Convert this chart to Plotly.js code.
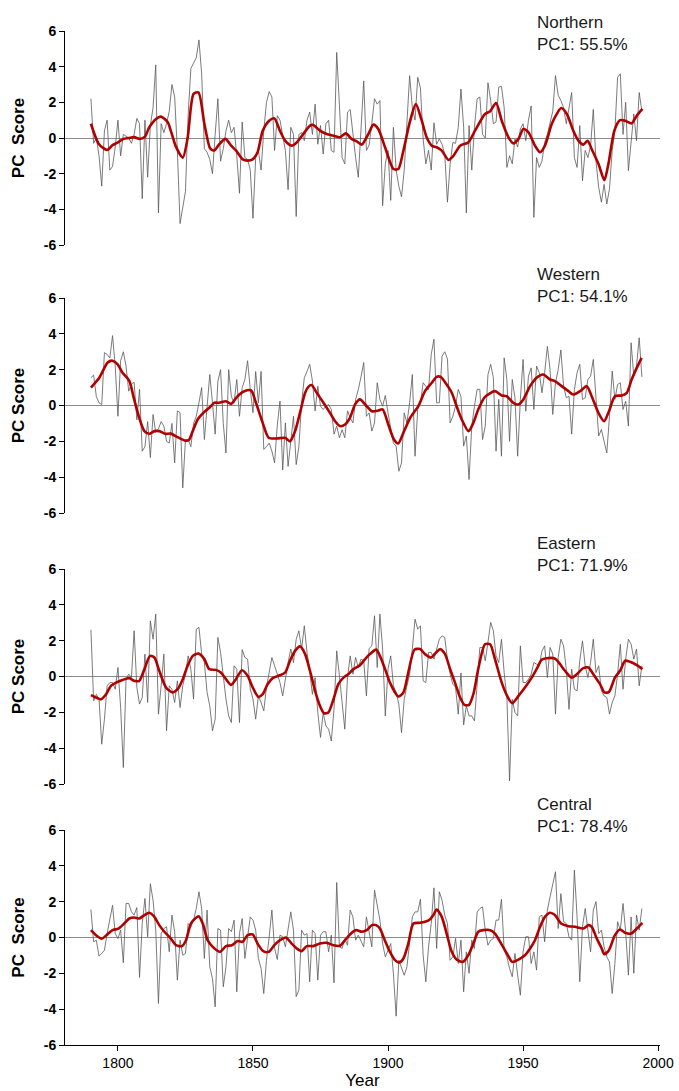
<!DOCTYPE html>
<html>
<head>
<meta charset="utf-8">
<script src="https://cdn.plot.ly/plotly-3.0.1.min.js"></script>
<style>html,body{margin:0;padding:0;background:#fff;}#chart{width:679px;height:1091px;}</style>
</head>
<body>
<div id="chart"></div>
<script>
// ---- DATA ----
var startYear = 1790, endYear = 1994;
var years = [];
for (var yy = startYear; yy <= endYear; yy++) years.push(yy);

var northern = [2.2,-0.3,0.0,-1.0,-2.7,0.4,1.0,-1.8,-1.6,-0.5,
1.0,-1.0,0.2,0.1,0.0,-0.3,0.2,1.1,0.8,-3.4,
1.0,-2.2,0.7,1.7,4.1,-4.2,0.8,0.3,0.8,1.5,
3.0,2.3,-0.7,-4.8,-3.9,-3.0,1.3,3.9,4.2,4.5,
5.5,3.6,-0.6,-0.8,-1.2,-2.0,0.2,2.2,-1.3,-0.6,
0.4,1.0,0.3,0.6,-1.0,-3.1,0.9,-1.1,-1.2,-1.8,
-4.5,-1.1,-0.7,-1.8,0.4,2.0,2.6,2.3,-0.7,1.25,
1.0,0.2,-0.7,-2.9,0.6,0.2,-4.4,0.2,0.3,-0.15,
1.0,1.45,0.2,1.9,-0.35,0.7,-0.9,0.8,1.0,-0.7,
-0.8,4.8,1.7,-1.1,-1.45,1.45,1.6,0.05,-1.1,-2.2,
0.2,3.2,-0.7,-0.4,0.8,2.2,1.9,2.1,-3.8,-1.45,
-0.7,-3.5,0.6,-1.8,-2.7,-3.3,-1.8,0.8,3.5,1.7,
1.0,3.4,2.8,-0.05,-1.45,-0.7,-1.8,0.85,-0.35,-0.05,
-0.35,-0.9,-3.6,-1.45,-0.25,-0.3,0.6,2.75,0.6,-4.2,
0.7,-1.8,0.6,2.2,2.3,0.2,0.0,3.1,2.1,0.8,
0.9,2.85,2.9,1.7,-1.65,-1.0,-1.45,-0.05,-0.5,0.5,
0.8,-0.15,1.0,1.8,-4.45,-1.1,-1.65,-1.3,-0.25,0.2,
0.8,1.5,3.5,2.4,2.1,1.7,0.8,1.8,2.55,-1.1,
-1.65,0.7,-2.4,-0.7,-1.1,-0.45,1.6,-1.3,-2.77,-3.6,
-2.6,-3.7,-2.85,-0.7,0.4,3.4,3.6,0.2,2.0,-1.83,
-0.05,1.35,-0.15,2.55,1.5];

var western = [1.55,1.7,0.5,0.15,0.05,2.95,2.85,2.65,3.9,2.2,
-0.6,2.5,3.0,2.2,0.8,1.2,1.3,-0.8,0.9,-2.55,
-2.3,-0.9,-2.9,-0.5,-1.5,-1.3,-0.9,-1.15,-2.0,-2.1,
-1.0,-3.2,-0.3,-0.4,-4.6,-1.9,-1.9,-2.3,-1.0,-0.6,
0.15,1.0,-1.9,-0.15,1.73,0.15,-1.6,1.35,2.0,-1.0,
-2.65,2.0,0.5,0.15,1.45,-0.6,1.0,1.45,2.5,0.9,
-0.4,1.9,0.15,1.9,-2.45,-2.3,-2.1,-2.55,-3.2,-1.1,
0.25,-3.6,-0.97,-3.4,-2.1,-0.6,-3.3,-2.3,0.15,1.55,
1.9,2.3,1.37,-0.3,1.08,-0.04,-0.22,-0.04,0.05,-0.22,
-1.6,-1.15,-1.8,-1.35,-1.8,-0.3,-0.69,-0.97,0.34,0.89,
1.6,2.4,-0.6,-0.41,-1.43,-0.97,1.27,0.34,-0.04,0.56,
-0.41,-1.25,-2.1,-2.27,-3.67,-3.2,-0.41,-0.97,0.15,1.73,
-2.83,-0.22,0.15,1.27,1.08,0.89,2.85,3.7,0.15,0.15,
2.75,3.0,2.6,-0.97,-0.6,-0.04,0.9,0.5,-2.27,-1.7,
-4.13,-1.15,-0.04,0.9,0.9,-1.9,-1.15,1.73,2.3,1.55,
-2.55,0.34,-2.83,2.66,1.45,-2.0,1.45,0.43,-2.83,0.34,
2.57,-0.32,1.64,2.1,-0.22,2.2,1.83,0.71,1.83,3.3,
2.0,-0.5,1.27,2.0,3.1,1.08,0.43,0.52,-1.6,0.89,
1.83,2.3,0.34,0.43,1.45,1.64,2.57,0.52,-1.7,-1.34,
-2.1,-2.65,-0.6,1.92,0.34,1.17,1.27,-0.22,0.24,-1.15,
3.5,1.64,2.2,3.78,1.6];

var eastern = [2.6,-1.36,-1.0,-1.26,-3.78,-2.38,-0.52,-0.34,-0.34,-0.71,
0.5,-1.73,-5.08,-0.15,0.13,-0.06,2.55,-0.6,-1.54,-1.17,
1.25,-1.45,3.1,2.08,3.48,-2.1,-0.52,1.25,-3.03,-0.52,
-0.71,-1.45,-0.24,-1.73,-0.52,0.13,1.15,0.41,-1.26,2.64,
2.74,1.25,0.78,-0.89,-1.64,-3.03,-2.38,2.18,1.34,-0.15,
-1.26,-2.2,-2.57,0.6,0.41,-2.57,1.5,1.06,0.97,-0.71,
-1.26,-2.38,-1.08,-1.45,-1.92,-0.6,0.22,1.06,0.6,0.1,
-0.34,-1.08,-0.06,0.78,1.53,0.78,2.08,2.55,1.53,2.83,
1.34,0.32,-0.99,-0.06,-2.01,-3.4,-2.01,-2.76,-2.94,-3.6,
-1.83,1.43,0.04,-1.27,-2.94,-0.06,1.15,0.13,1.06,0.5,
0.97,0.88,-1.08,1.56,1.71,3.39,0.5,3.48,1.53,-2.2,
0.41,1.15,-0.52,-0.89,-1.54,-3.13,-1.27,-0.52,0.13,1.53,
3.2,2.64,2.83,-0.24,-0.34,1.34,1.34,0.97,1.53,2.08,
2.27,2.18,0.97,0.13,-0.43,-0.6,-2.1,0.2,-2.7,-1.64,
-2.2,-2.2,-2.48,-0.15,1.62,1.62,0.88,1.9,3.02,2.55,
1.15,0.78,2.08,0.22,-1.17,-5.83,-1.27,-2.01,-2.2,1.71,
-0.34,-0.34,-0.15,0.13,0.78,0.69,0.6,1.43,1.71,-0.06,
1.62,1.25,-2.1,1.06,2.08,1.71,0.41,-1.83,0.41,-0.71,
-0.8,0.88,1.99,0.6,-0.06,0.78,2.08,0.22,0.6,-0.8,
-1.08,-1.17,-2.1,-1.45,-1.08,0.13,1.8,-0.71,0.97,2.08,
1.81,0.97,1.53,-0.52,0.6];

var central = [1.56,-0.24,-0.15,-1.04,-0.89,-0.71,0.22,0.97,1.8,0.22,
-0.06,0.41,-1.41,1.9,1.9,1.43,1.25,1.67,-2.23,0.78,
2.18,0.04,3.0,2.08,0.41,-3.68,0.22,0.5,0.6,-0.8,
1.25,0.32,-2.38,-0.15,-0.99,-0.89,0.78,0.6,0.97,1.62,
2.55,1.62,-1.17,1.53,-1.64,-2.29,-3.87,0.5,0.41,-2.75,
-1.64,0.5,0.32,0.97,-3.03,0.22,1.06,-1.17,-0.15,1.15,
0.97,0.41,-1.17,-1.73,-3.13,-1.27,0.04,1.53,-0.6,-1.23,
0.13,0.04,-0.52,0.41,1.43,0.41,-3.3,-2.94,0.41,0.13,
0.22,-2.47,0.41,0.22,-2.38,0.13,0.32,0.32,-0.8,0.13,
-2.53,3.07,-0.52,-0.61,-0.06,-0.43,1.53,1.15,-0.15,0.13,
-0.24,-0.52,1.15,0.32,-0.52,2.64,1.9,0.97,-0.34,-1.08,
-0.71,-0.34,-2.01,-4.39,-1.27,-1.64,-2.11,-1.64,-0.34,1.15,
1.43,1.43,2.14,-0.99,-2.47,-0.52,0.78,2.77,-0.61,2.55,
2.08,1.25,0.78,-1.27,-1.08,-0.05,-1.45,-0.15,-3.03,-0.8,
-2.0,-0.15,-0.61,1.43,1.62,1.71,0.41,-0.43,-0.15,-0.06,
0.97,0.97,2.14,-0.71,-1.08,-1.73,-2.19,-0.89,-2.1,-3.22,
-0.8,0.04,0.04,-1.45,-0.8,-1.82,1.15,1.25,-0.24,1.53,
2.27,2.9,3.67,0.5,2.45,0.88,0.78,0.04,-0.15,3.76,
1.15,-2.47,0.6,1.62,0.22,-0.8,1.53,2.0,0.22,0.41,
-0.52,-1.08,-1.36,-3.13,-1.45,0.88,0.41,1.9,0.32,-2.1,
1.15,-2.0,1.25,0.41,1.62];

// smoothed curves (year, value)
var northernSmoothX = [1790,1793,1796,1798,1800,1802,1804,1806,1808,1810,1811.6,1814.1,1815.9,1818.4,1819.6,1821.5,1824,1825.8,1828,1829.8,1832,1834.2,1835.7,1837.5,1839.8,1841.9,1843.7,1846.2,1848,1849.9,1851.7,1853.6,1856,1857.9,1860,1861.9,1864.3,1866.2,1868.6,1871.1,1872.3,1874.8,1877.3,1879.8,1882.2,1884.4,1886.5,1888.4,1890.3,1892.7,1894.6,1896.4,1898.9,1902,1903.8,1905.7,1908.2,1910.3,1912.5,1914.3,1916.2,1918,1919.9,1922.4,1924.2,1926.7,1929.7,1932.2,1935.9,1937.8,1940,1942.1,1944.6,1946.4,1948.3,1950.1,1952,1954.4,1956.3,1958.1,1960.6,1962.5,1964.1,1966.2,1968.6,1970.5,1972.3,1973.9,1975.4,1977.9,1980.1,1981.6,1983.8,1985.9,1987.8,1990.2,1992.1,1994.2];
var northernSmoothY = [0.8,-0.35,-0.67,-0.4,-0.25,-0.05,0.0,0.05,-0.05,0.08,0.6,1.07,1.2,0.9,0.4,-0.5,-1.1,0.0,2.47,2.56,0.8,-0.6,-0.7,-0.35,-0.05,-0.43,-0.7,-1.2,-1.27,-1.2,-0.8,0.4,0.97,1.1,0.4,-0.15,-0.43,-0.25,0.22,0.7,0.73,0.41,0.22,0.13,0.04,0.26,-0.05,-0.19,-0.37,0.22,0.75,0.5,-0.52,-1.74,-1.74,-0.7,0.97,1.9,0.97,0.04,-0.43,-0.52,-0.71,-1.23,-1.0,-0.43,-0.25,0.41,1.35,1.5,1.96,0.97,0.04,-0.3,-0.05,0.5,0.32,-0.43,-0.8,-0.43,0.78,1.35,1.68,1.35,0.41,-0.15,-0.37,-0.15,-0.62,-1.45,-2.36,-1.45,0.41,1.0,0.97,0.82,1.25,1.63];

var westernSmoothX = [1790,1793.1,1796.2,1798,1799.9,1801.7,1804.2,1806,1807.9,1809.8,1811.6,1813.5,1815.3,1817.5,1819.6,1822.1,1824.6,1826.2,1827.7,1829.5,1831.6,1833.8,1835.7,1837.5,1840,1841.9,1844.3,1846.8,1849.3,1851.1,1853.6,1855.8,1858.8,1861.9,1863.7,1865.6,1867.4,1869.3,1870.5,1871.7,1873.6,1876.1,1878.5,1880.4,1882.2,1884.1,1885.9,1887.8,1889.6,1892.1,1894,1896.4,1898,1900.1,1902.2,1903.8,1905.7,1908.2,1911.2,1913.7,1916.2,1918,1919.5,1921.7,1923.6,1925.4,1927.3,1929.8,1931.6,1933.4,1935.9,1939.6,1942.1,1943.9,1946.4,1948.3,1950.1,1952.6,1955,1957.5,1960,1961.8,1964.3,1966.8,1968.6,1971.1,1973.6,1975.4,1977.9,1980,1981.8,1984,1986.5,1988.4,1990.2,1992.1,1993.9];
var westernSmoothY = [1.0,1.55,2.4,2.5,2.3,1.83,1.37,0.34,-0.69,-1.43,-1.58,-1.43,-1.43,-1.58,-1.57,-1.77,-1.95,-1.94,-1.43,-0.78,-0.41,-0.13,0.15,0.15,0.24,0.09,0.52,0.8,0.84,0.15,-0.97,-1.8,-1.84,-1.8,-2.0,-1.43,-0.41,0.71,1.04,1.14,0.71,0.15,-0.41,-0.88,-1.15,-1.06,-0.69,0.06,0.34,-0.04,-0.32,-0.28,-0.22,-1.06,-1.9,-2.12,-1.52,-0.69,-0.04,0.8,1.27,1.6,1.6,1.17,0.71,-0.04,-0.78,-1.43,-0.97,-0.22,0.48,0.8,0.56,0.52,0.15,0.06,0.34,1.08,1.55,1.73,1.45,1.36,1.08,0.8,0.61,0.8,1.08,0.52,-0.41,-0.88,-0.32,0.52,0.56,0.71,1.45,2.1,2.66];

var easternSmoothX = [1790,1791.9,1793.7,1795.6,1797.4,1799.3,1801.7,1804.2,1806,1807.9,1809.8,1811.9,1813.5,1815.3,1817.8,1820.2,1822.1,1824,1825.8,1827.7,1829.8,1832,1833.8,1836.3,1838.1,1840,1841.9,1843.7,1845.9,1848,1849.9,1852,1853.6,1855.4,1857.3,1859.5,1861.9,1863.7,1865.6,1867.4,1869.3,1871.1,1873,1874.8,1876.3,1877.9,1879.8,1881.6,1883.5,1885.3,1887.2,1889.6,1891.5,1893.3,1895.6,1897,1898.9,1900.7,1902.6,1903.8,1905.7,1907.5,1909.8,1911.9,1913.7,1915.9,1917.8,1919.3,1921.1,1923,1924.8,1926.7,1928.3,1930,1931.6,1933.4,1935.9,1937.8,1939.6,1942.1,1944.3,1946,1948.3,1950.7,1953.2,1955,1956.9,1958.7,1961.8,1963.7,1965.5,1968,1969.9,1972.3,1974.2,1976,1978.5,1980.1,1981.8,1984,1985.9,1987.8,1989.6,1992.1,1994.2];
var easternSmoothY = [-1.04,-1.17,-1.27,-0.99,-0.52,-0.34,-0.19,-0.09,-0.24,-0.24,0.41,1.15,1.06,0.32,-0.61,-0.89,-0.71,-0.15,0.6,1.15,1.28,0.97,0.41,0.37,0.22,-0.15,-0.47,-0.15,0.35,0.04,-0.61,-1.14,-0.99,-0.43,-0.09,0.04,0.22,0.88,1.43,1.68,1.25,0.32,-0.8,-1.64,-2.05,-2.01,-1.27,-0.43,-0.06,0.13,0.41,0.63,0.97,1.25,1.5,1.15,0.41,-0.34,-0.89,-1.12,-0.89,0.22,1.5,1.53,1.25,1.06,1.34,1.53,1.25,0.41,-0.34,-1.17,-1.58,-1.58,-0.99,0.41,1.8,1.8,0.97,-0.34,-1.14,-1.49,-1.08,-0.61,-0.06,0.41,0.93,1.02,1.0,0.69,0.32,-0.06,0.13,0.47,0.5,0.13,-0.43,-0.89,-0.86,-0.06,0.32,0.88,0.82,0.63,0.41];

var centralSmoothX = [1790,1791.9,1794,1796.2,1798,1800.2,1802.3,1804.2,1806,1807.9,1809.8,1811.6,1813.5,1815.3,1817.2,1819.6,1821.5,1823.7,1825.2,1827,1828.6,1829.9,1831.4,1833.2,1835.1,1837.8,1840,1842.2,1844.3,1846.2,1848,1849.9,1851.7,1853.8,1855.8,1857.9,1860,1862.2,1864.3,1866.2,1868,1869.9,1872.3,1874.8,1877.3,1879.8,1882.2,1884.1,1885.9,1888.2,1890.3,1892.1,1894,1895.6,1897,1898.9,1900.7,1902.6,1904.1,1905.7,1907.5,1909.4,1911.9,1913.7,1915.6,1916.8,1918,1919.9,1921.7,1923.6,1925.4,1927.7,1929.7,1931.6,1933.4,1935.3,1937.8,1939.6,1941.5,1944,1946,1948.3,1950.7,1952.6,1954.4,1956.3,1958.1,1960,1961.8,1964.1,1966.8,1969.2,1972.3,1974.2,1975.4,1977.3,1979.1,1980.1,1981.8,1984,1985.9,1987.8,1990,1992.1,1994.2];
var centralSmoothY = [0.41,0.13,-0.06,0.19,0.41,0.5,0.78,1.06,1.12,1.06,1.25,1.38,1.15,0.69,0.32,-0.06,-0.43,-0.48,-0.15,0.78,1.06,1.19,0.78,-0.15,-0.52,-0.8,-0.48,-0.43,-0.2,-0.24,0.13,0.17,-0.34,-0.76,-0.8,-0.43,-0.15,0.0,-0.34,-0.61,-0.76,-0.48,-0.48,-0.34,-0.3,-0.43,-0.46,-0.15,0.17,0.41,0.32,0.41,0.69,0.69,0.5,-0.19,-0.8,-1.26,-1.4,-1.17,-0.34,0.78,0.82,0.88,1.02,1.25,1.56,1.15,0.22,-0.8,-1.23,-1.36,-0.99,-0.34,0.32,0.41,0.41,0.22,-0.24,-0.89,-1.36,-1.23,-0.99,-0.61,-0.15,0.6,1.15,1.38,1.25,0.78,0.63,0.6,0.5,0.69,0.6,-0.06,-0.61,-0.93,-0.71,0.13,0.45,0.26,0.22,0.5,0.82];

var regionLabels = ["Northern", "Western", "Eastern", "Central"];
var pcLabels = ["PC1: 55.5%", "PC1: 54.1%", "PC1: 71.9%", "PC1: 78.4%"];
var yTitles = ["PC\u00a0 Score", "PC Score", "PC Score", "PC\u00a0 Score"];
var yTickVals = [-6, -4, -2, 0, 2, 4, 6];
var yTickText = ["-6", "-4", "-2", "0", "2", "4", "6"];
var xTickVals = [1800, 1850, 1900, 1950, 2000];

// ---- PLOT ----
var FONT = "Liberation Sans, Arial, sans-serif";
var annual = [northern, western, eastern, central];
var smoothX = [northernSmoothX, westernSmoothX, easternSmoothX, centralSmoothX];
var smoothY = [northernSmoothY, westernSmoothY, easternSmoothY, centralSmoothY];
var axisNames = ["y", "y2", "y3", "y4"];

var traces = [];
for (var i = 0; i < 4; i++) {
  traces.push({
    x: years, y: annual[i], type: "scatter", mode: "lines",
    xaxis: "x", yaxis: axisNames[i],
    line: {color: "#595959", width: 0.8}, hoverinfo: "skip"
  });
  traces.push({
    x: smoothX[i], y: smoothY[i], type: "scatter", mode: "lines",
    xaxis: "x", yaxis: axisNames[i],
    line: {color: "#b00000", width: 2.6, shape: "spline", smoothing: 0.7}, hoverinfo: "skip"
  });
}

var plotTop = 31, plotBottom = 1045, H = 1091;
var plotH = plotBottom - plotTop;
var panelPx = [[31, 245], [298, 513], [569, 784], [830, 1045]];
function dom(p) { return [(plotBottom - p[1]) / plotH, (plotBottom - p[0]) / plotH]; }

function yAxis(i) {
  return {
    domain: dom(panelPx[i]),
    range: [-6, 6],
    anchor: "x",
    tickvals: yTickVals, ticktext: yTickText,
    ticks: "outside", ticklen: 5, tickwidth: 1, tickcolor: "#000",
    showline: true, linecolor: "#000", linewidth: 1,
    showgrid: false,
    zeroline: true, zerolinecolor: "#8c8c8c", zerolinewidth: 1,
    tickfont: {family: FONT, size: 14, color: "#000", weight: "bold"},
    title: {text: yTitles[i], font: {family: FONT, size: 17, color: "#000", weight: "bold"}, standoff: 14}
  };
}

var annotations = [];
var annTopPx = [11, 263, 532, 793];
for (var k = 0; k < 4; k++) {
  annotations.push({
    xref: "paper", yref: "paper",
    x: (535 - 65) / 595, xanchor: "left",
    y: (plotBottom - annTopPx[k]) / plotH, yanchor: "top",
    align: "left", showarrow: false,
    text: regionLabels[k] + "<br>" + pcLabels[k],
    font: {family: FONT, size: 17, color: "#1a1a1a"}
  });
}

var layout = {
  width: 679, height: 1091,
  margin: {l: 65, r: 19, t: plotTop, b: H - plotBottom},
  paper_bgcolor: "#fff", plot_bgcolor: "#fff",
  showlegend: false,
  xaxis: {
    range: [1780.4, 2000.7],
    anchor: "y4",
    tickvals: xTickVals,
    ticks: "outside", ticklen: 5, tickcolor: "#000",
    showline: true, linecolor: "#000", linewidth: 1,
    showgrid: false, zeroline: false,
    tickfont: {family: FONT, size: 14, color: "#000"},
    title: {text: "Year", font: {family: FONT, size: 17, color: "#000"}, standoff: 4}
  },
  yaxis: yAxis(0), yaxis2: yAxis(1), yaxis3: yAxis(2), yaxis4: yAxis(3),
  annotations: annotations
};

Plotly.newPlot("chart", traces, layout, {displayModeBar: false, staticPlot: true});
</script>
</body>
</html>
